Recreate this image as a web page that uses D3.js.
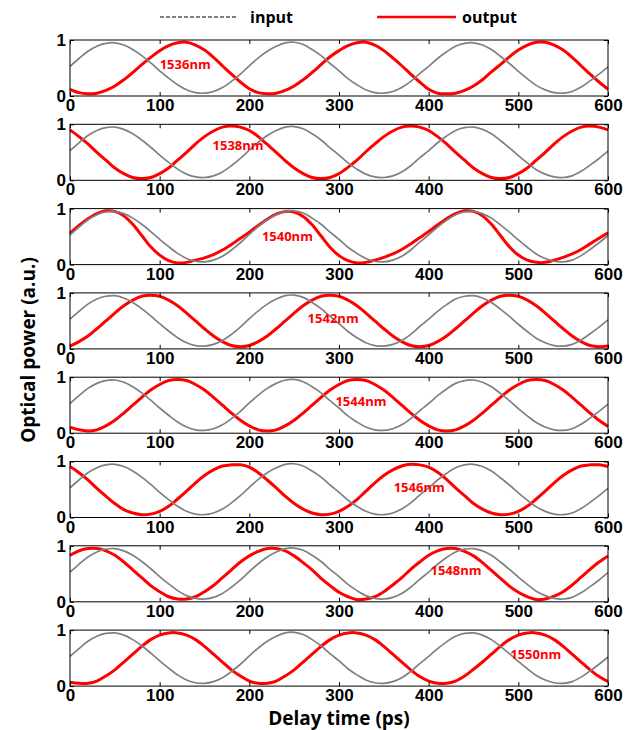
<!DOCTYPE html>
<html>
<head>
  <meta charset="UTF-8">
  <title>Optical power vs delay time</title>
  <script src="https://d3js.org/d3.v7.min.js"></script>
  <style>
    body { margin: 0; padding: 0; background: #fff; }
    svg { display: block; font-family: "Open Sans", "DejaVu Sans", sans-serif; }
    .axis text { font-size: 17px; font-weight: 700; fill: #000; }
    .axis line { stroke: #000; }
    .axis .domain { display: none; }
  </style>
</head>
<body>
<svg id="chart" width="641" height="730"></svg>
<script>
  var delay = [0,10,20,30,40,50,60,70,80,90,100,110,120,130,140,150,160,170,180,190,
    200,210,220,230,240,250,260,270,280,290,300,310,320,330,340,350,360,370,380,390,
    400,410,420,430,440,450,460,470,480,490,500,510,520,530,540,550,560,570,580,590,600];

  var inputPower = [0.53,0.67,0.80,0.89,0.94,0.95,0.91,0.83,0.72,0.59,0.45,0.32,0.20,0.11,0.06,0.05,0.08,0.15,0.26,0.39,
    0.54,0.68,0.80,0.89,0.95,0.96,0.92,0.83,0.72,0.58,0.45,0.31,0.20,0.11,0.06,0.05,0.08,0.15,0.26,0.40,
    0.53,0.67,0.79,0.89,0.94,0.95,0.91,0.83,0.71,0.58,0.44,0.31,0.19,0.11,0.06,0.05,0.08,0.16,0.27,0.39,0.52];

  var out1536 = [0.12,0.06,0.04,0.05,0.10,0.18,0.29,0.42,0.56,0.69,0.81,0.90,0.95,0.96,0.91,0.82,0.69,0.54,0.39,0.25,
    0.13,0.06,0.04,0.05,0.10,0.18,0.29,0.42,0.56,0.70,0.81,0.90,0.95,0.96,0.91,0.81,0.68,0.54,0.39,0.25,
    0.12,0.05,0.04,0.05,0.10,0.18,0.29,0.43,0.56,0.70,0.82,0.91,0.96,0.96,0.91,0.82,0.69,0.54,0.39,0.25,0.12];
  var out1538 = [0.90,0.78,0.65,0.50,0.36,0.22,0.12,0.05,0.03,0.05,0.12,0.22,0.36,0.50,0.65,0.78,0.88,0.95,0.97,0.95,
    0.89,0.78,0.64,0.50,0.35,0.22,0.12,0.05,0.03,0.05,0.12,0.23,0.36,0.51,0.65,0.78,0.88,0.95,0.97,0.95,
    0.89,0.78,0.65,0.50,0.36,0.22,0.12,0.05,0.03,0.05,0.12,0.22,0.36,0.50,0.65,0.78,0.88,0.95,0.97,0.95,0.90];
  var out1540 = [0.56,0.70,0.82,0.91,0.96,0.95,0.87,0.72,0.52,0.32,0.17,0.07,0.03,0.04,0.08,0.12,0.18,0.26,0.36,0.47,
    0.58,0.70,0.81,0.90,0.95,0.94,0.86,0.71,0.51,0.31,0.16,0.07,0.03,0.04,0.08,0.13,0.19,0.27,0.37,0.48,
    0.59,0.71,0.82,0.91,0.96,0.95,0.87,0.72,0.52,0.32,0.17,0.08,0.04,0.04,0.08,0.13,0.19,0.27,0.37,0.47,0.57];
  var out1542 = [0.05,0.13,0.23,0.36,0.50,0.64,0.77,0.87,0.94,0.96,0.94,0.87,0.77,0.64,0.50,0.36,0.23,0.13,0.06,0.04,
    0.06,0.13,0.23,0.36,0.50,0.64,0.77,0.87,0.94,0.96,0.94,0.87,0.77,0.64,0.50,0.36,0.23,0.13,0.06,0.04,
    0.06,0.13,0.23,0.36,0.50,0.64,0.77,0.87,0.94,0.96,0.94,0.87,0.77,0.64,0.50,0.36,0.23,0.13,0.06,0.04,0.05];
  var out1544 = [0.11,0.06,0.04,0.06,0.13,0.23,0.36,0.50,0.64,0.77,0.87,0.94,0.96,0.94,0.87,0.77,0.64,0.50,0.36,0.23,
    0.13,0.06,0.04,0.06,0.13,0.23,0.36,0.50,0.64,0.77,0.87,0.94,0.96,0.94,0.87,0.77,0.64,0.50,0.36,0.23,
    0.13,0.06,0.04,0.06,0.13,0.23,0.36,0.50,0.64,0.77,0.87,0.94,0.96,0.94,0.87,0.77,0.64,0.50,0.36,0.23,0.12];
  var out1546 = [0.91,0.80,0.67,0.52,0.38,0.25,0.14,0.08,0.05,0.06,0.11,0.20,0.33,0.47,0.62,0.75,0.85,0.92,0.94,0.94,
    0.90,0.80,0.67,0.53,0.38,0.25,0.15,0.08,0.05,0.06,0.11,0.20,0.32,0.47,0.62,0.75,0.85,0.92,0.95,0.94,
    0.90,0.81,0.68,0.53,0.39,0.25,0.15,0.08,0.05,0.06,0.11,0.20,0.33,0.47,0.62,0.75,0.85,0.92,0.94,0.94,0.91];
  var out1548 = [0.83,0.91,0.95,0.95,0.91,0.83,0.71,0.57,0.43,0.29,0.18,0.09,0.05,0.05,0.09,0.18,0.29,0.43,0.57,0.71,
    0.82,0.90,0.95,0.95,0.91,0.82,0.70,0.57,0.42,0.29,0.17,0.09,0.04,0.05,0.09,0.18,0.30,0.43,0.58,0.71,
    0.83,0.91,0.95,0.95,0.90,0.82,0.70,0.56,0.42,0.28,0.17,0.09,0.04,0.05,0.10,0.18,0.30,0.44,0.58,0.71,0.82];
  var out1550 = [0.07,0.05,0.05,0.09,0.18,0.29,0.43,0.57,0.71,0.83,0.91,0.95,0.95,0.91,0.83,0.71,0.57,0.43,0.29,0.18,
    0.09,0.05,0.05,0.09,0.18,0.29,0.43,0.57,0.71,0.83,0.91,0.95,0.95,0.91,0.83,0.71,0.57,0.43,0.29,0.17,
    0.09,0.05,0.05,0.09,0.18,0.30,0.43,0.57,0.71,0.83,0.91,0.95,0.95,0.91,0.83,0.71,0.57,0.43,0.29,0.17,0.08];

  var wavelengths = ["1536nm", "1538nm", "1540nm", "1542nm", "1544nm", "1546nm", "1548nm", "1550nm"];
  var outputs = [out1536, out1538, out1540, out1542, out1544, out1546, out1548, out1550];
  var xTicks = [0, 100, 200, 300, 400, 500, 600];
  var yTicks = [0, 1];

  // where each wavelength tag sits (delay ps, power)
  var tagAt = [[100, 0.57], [159, 0.62], [214, 0.5], [265, 0.55], [296, 0.57], [361, 0.54], [402, 0.56], [491, 0.57]];

  var left = 70, plotW = 538, plotH = 56, top0 = 40, pitch = 84.3;

  var svg = d3.select("#chart");

  var x = d3.scaleLinear().domain([0, 600]).range([0, plotW]);
  var y = d3.scaleLinear().domain([0, 1]).range([plotH, 0]);

  var line = d3.line()
    .x(function (d) { return x(d[0]); })
    .y(function (d) { return y(d[1]); })
    .curve(d3.curveCatmullRom);

  var inputPts = delay.map(function (t, i) { return [t, inputPower[i]]; });

  outputs.forEach(function (series, k) {
    var g = svg.append("g")
      .attr("transform", "translate(" + left + "," + (top0 + k * pitch) + ")");

    var pts = delay.map(function (t, i) { return [t, series[i]]; });

    g.append("path")
      .attr("d", line(pts))
      .attr("fill", "none")
      .attr("stroke", "#ff0000")
      .attr("stroke-width", 3);

    g.append("path")
      .attr("d", line(inputPts))
      .attr("fill", "none")
      .attr("stroke", "#808080")
      .attr("stroke-width", 1.7);

    g.append("rect")
      .attr("width", plotW)
      .attr("height", plotH)
      .attr("fill", "none")
      .attr("stroke", "#000")
      .attr("stroke-width", 1);

    g.append("g").attr("class", "axis")
      .attr("transform", "translate(0," + plotH + ")")
      .call(d3.axisBottom(x).tickValues(xTicks).tickSize(-4).tickPadding(3));

    g.append("g").attr("class", "axis")
      .call(d3.axisTop(x).tickValues(xTicks).tickSize(-4).tickFormat(""));

    g.append("g").attr("class", "axis")
      .call(d3.axisLeft(y).tickValues(yTicks).tickSize(-4).tickPadding(4).tickFormat(d3.format("d")));

    g.append("g").attr("class", "axis")
      .attr("transform", "translate(" + plotW + ",0)")
      .call(d3.axisRight(y).tickValues(yTicks).tickSize(-4).tickFormat(""));

    g.append("text")
      .attr("x", x(tagAt[k][0]))
      .attr("y", y(tagAt[k][1]))
      .attr("dy", "0.35em")
      .attr("fill", "#ff0000")
      .style("font-size", "13px")
      .style("font-weight", 700)
      .text(wavelengths[k]);
  });

  // legend
  var legend = svg.append("g");
  legend.append("line")
    .attr("x1", 160).attr("x2", 238).attr("y1", 17).attr("y2", 17)
    .attr("stroke", "#808080").attr("stroke-width", 2).attr("stroke-dasharray", "4,2");
  legend.append("text")
    .attr("x", 250).attr("y", 17).attr("dy", "0.35em")
    .style("font-size", "16px").style("font-weight", 700)
    .text("input");
  legend.append("line")
    .attr("x1", 377).attr("x2", 456).attr("y1", 17).attr("y2", 17)
    .attr("stroke", "#ff0000").attr("stroke-width", 2.5);
  legend.append("text")
    .attr("x", 462).attr("y", 17).attr("dy", "0.35em")
    .style("font-size", "16px").style("font-weight", 700)
    .text("output");

  // axis titles
  svg.append("text")
    .attr("x", left + plotW / 2).attr("y", 718).attr("dy", "0.35em")
    .attr("text-anchor", "middle")
    .style("font-size", "19px").style("font-weight", 700)
    .text("Delay time (ps)");

  svg.append("text")
    .attr("transform", "translate(28," + 350 + ") rotate(-90)")
    .attr("dy", "0.35em")
    .attr("text-anchor", "middle")
    .style("font-size", "19px").style("font-weight", 700)
    .text("Optical power (a.u.)");
</script>
</body>
</html>
